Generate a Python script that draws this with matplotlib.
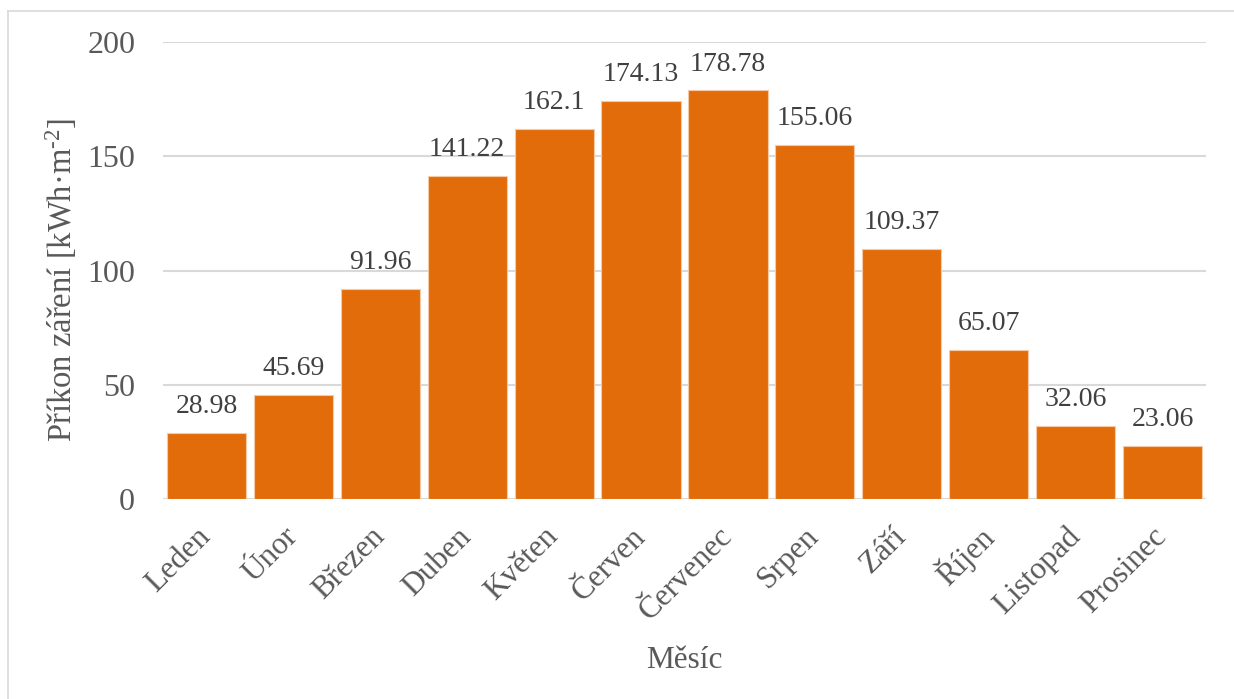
import matplotlib
matplotlib.use("Agg")
import matplotlib.pyplot as plt
from matplotlib.lines import Line2D

months = ["Leden", "Únor", "Březen", "Duben", "Květen", "Červen",
          "Červenec", "Srpen", "Září", "Říjen", "Listopad", "Prosinec"]
values = [28.98, 45.69, 91.96, 141.22, 162.1, 174.13,
          178.78, 155.06, 109.37, 65.07, 32.06, 23.06]
labels = ["28.98", "45.69", "91.96", "141.22", "162.1", "174.13",
          "178.78", "155.06", "109.37", "65.07", "32.06", "23.06"]
yticks = [0, 50, 100, 150, 200]

plt.rcParams['font.family'] = ['Liberation Serif', 'DejaVu Serif']
plt.rcParams['mathtext.fontset'] = 'custom'
plt.rcParams['mathtext.rm'] = 'Liberation Serif'
plt.rcParams['mathtext.it'] = 'Liberation Serif:italic'
plt.rcParams['mathtext.bf'] = 'Liberation Serif:bold'

W, H = 1234, 699
fig = plt.figure(figsize=(W/100, H/100), dpi=100)
ax = fig.add_axes([163/W, 1-499/H, (1206-163)/W, (499-42)/H])

bar_color = '#E36C0A'
x = list(range(len(months)))
bars = ax.bar(x, values, width=0.91, color=bar_color, edgecolor='#F6C9A6', linewidth=0.8, zorder=3)
for b, lab in zip(bars, labels):
    ax.annotate(lab, (b.get_x()+b.get_width()/2, b.get_height()), xytext=(0, 10),
                textcoords='offset points', ha='center', va='bottom',
                fontsize=20, color='#404040')

ax.set_xlim(-0.5, len(months)-0.5)
ax.set_ylim(0, 200)
ax.set_yticks(yticks)
ax.yaxis.grid(True, color='#D9D9D9', linewidth=1.5, zorder=0)
ax.set_axisbelow(True)
for s in ax.spines.values():
    s.set_visible(False)
ax.tick_params(axis='both', length=0, colors='#595959')
ax.tick_params(axis='y', labelsize=23, pad=20)
ax.tick_params(axis='x', labelsize=22.5, pad=24)
ax.set_xticks(x)
ax.set_xticklabels(months, rotation=45, ha='right', va='center', rotation_mode='anchor')

ax.set_ylabel(r'Příkon záření [kWh·m$^{\text{-2}}$]', fontsize=23.5, color='#595959')
ax.yaxis.set_label_coords(-0.081, 0.479)
ax.set_xlabel('Měsíc', fontsize=22.5, color='#595959', labelpad=14)

fig.add_artist(Line2D([8/W, 1], [1-11/H, 1-11/H], color='#D9D9D9', linewidth=1.2))
fig.add_artist(Line2D([8/W, 8/W], [0, 1-11/H], color='#D9D9D9', linewidth=1.2))

fig.savefig('out.png', dpi=100)
